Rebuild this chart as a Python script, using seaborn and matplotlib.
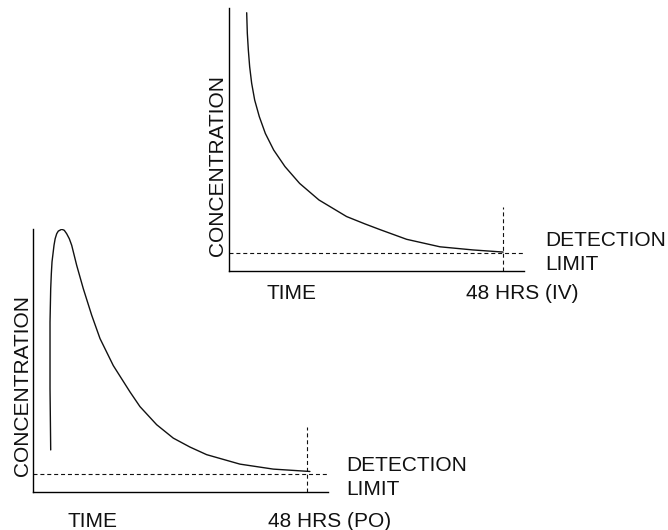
import matplotlib
matplotlib.use("Agg")
import matplotlib.pyplot as plt
import seaborn as sns
import pandas as pd

# ---------------- data ----------------
iv_hours = [3.10, 3.21, 3.39, 3.62, 3.97, 4.50, 5.31, 6.37, 7.83, 9.81,
            12.38, 15.77, 20.61, 23.83, 26.45, 31.13, 36.97, 42.80, 48.05]
iv_conc = [98.2, 90.4, 84.0, 77.7, 71.4, 65.0, 58.7, 52.3, 46.0, 39.7,
           33.3, 27.0, 20.7, 17.9, 15.75, 12.05, 9.2, 8.0, 7.2]

po_hours = [3.05, 2.93, 2.93, 3.05, 3.16, 3.28, 3.63, 3.83, 4.10, 4.38, 4.98,
            5.43, 5.85, 6.31, 6.73, 7.60, 8.76, 10.23, 11.69, 14.02, 16.94,
            18.69, 21.62, 24.53, 27.45, 30.38, 36.21, 42.05, 48.48]
po_conc = [15.9, 39.3, 64.6, 77.3, 83.0, 87.5, 93.8, 96.3, 98.2, 99.2, 99.9,
           99.5, 98.2, 96.3, 93.8, 86.2, 77.3, 67.2, 58.3, 48.0, 38.0,
           32.4, 25.5, 20.4, 17.0, 14.1, 10.5, 8.6, 7.7]

detection_limit = 6.8
cutoff_hours = 48
cutoff_top = 24.5
x_max = 51.7
y_max = 100

y_label = "CONCENTRATION"
x_label = "TIME"
iv_cut_label = "48 HRS (IV)"
po_cut_label = "48 HRS (PO)"
limit_label = ["DETECTION", "LIMIT"]

# ---------------- style ----------------
sns.set_style("white")
plt.rcParams["font.family"] = ["Liberation Sans", "DejaVu Sans"]

W, H = 668, 530
fig = plt.figure(figsize=(W / 100, H / 100), dpi=100)


def fx(px):
    return px / W


def fy(py):
    return 1 - py / H


ink = "#111111"
dash = (0, (3.6, 2.6))


def panel(left_px, top_px, bottom_px, hours, conc):
    ax = fig.add_axes([fx(left_px), fy(bottom_px), 295 / W, (bottom_px - top_px) / H])
    df = pd.DataFrame({"t": hours, "c": conc})
    sns.lineplot(data=df, x="t", y="c", ax=ax, sort=False, estimator=None,
                 color=ink, linewidth=1.0)
    ax.axhline(detection_limit, color=ink, linewidth=0.8, linestyle=dash,
               clip_on=False)
    ax.plot([cutoff_hours, cutoff_hours], [0, cutoff_top], color=ink,
            linewidth=0.8, linestyle=dash)
    ax.set_xlim(0, x_max)
    ax.set_ylim(0, y_max)
    ax.set_xticks([])
    ax.set_yticks([])
    ax.set_xlabel("")
    ax.set_ylabel("")
    for s in ["top", "right"]:
        ax.spines[s].set_visible(False)
    for s in ["left", "bottom"]:
        ax.spines[s].set_color("black")
        ax.spines[s].set_linewidth(1.0)
    ax.patch.set_alpha(0)
    return ax


panel(229, 8, 271, iv_hours, iv_conc)
panel(33.3, 229, 491.7, po_hours, po_conc)

fs = 15
kw = dict(fontsize=fs, color=ink)

# upper (IV) texts
fig.text(fx(223.3), fy(166), y_label, rotation=90, rotation_mode="anchor",
         ha="center", va="baseline", **kw)
fig.text(fx(291.7), fy(299.3), x_label, ha="center", va="baseline", **kw)
fig.text(fx(522.5), fy(299.3), iv_cut_label, ha="center", va="baseline", **kw)
fig.text(fx(545), fy(245.7), limit_label[0], ha="left", va="baseline", **kw)
fig.text(fx(545), fy(270), limit_label[1], ha="left", va="baseline", **kw)

# lower (PO) texts
fig.text(fx(28.3), fy(386), y_label, rotation=90, rotation_mode="anchor",
         ha="center", va="baseline", **kw)
fig.text(fx(92.5), fy(526.7), x_label, ha="center", va="baseline", **kw)
fig.text(fx(330), fy(526.7), po_cut_label, ha="center", va="baseline", **kw)
fig.text(fx(346), fy(470.7), limit_label[0], ha="left", va="baseline", **kw)
fig.text(fx(346), fy(495), limit_label[1], ha="left", va="baseline", **kw)

fig.savefig("out.png", dpi=100, facecolor="white")
